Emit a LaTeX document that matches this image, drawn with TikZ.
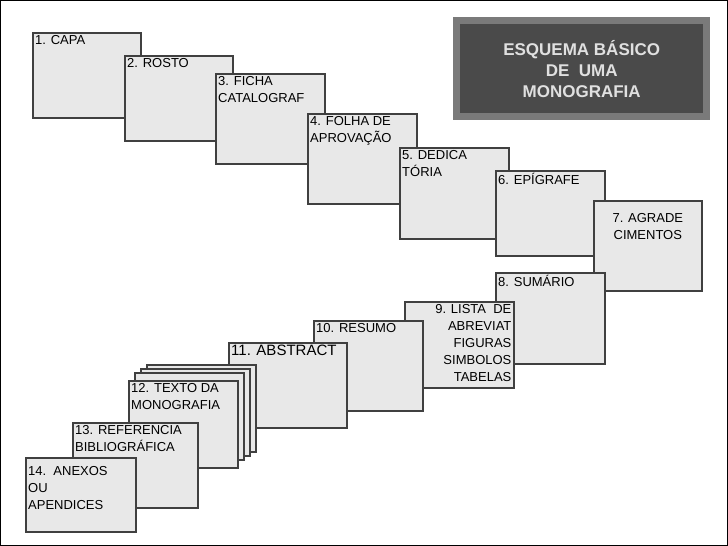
\documentclass[tikz,border=0pt]{standalone}
\usepackage{fontspec}
\setmainfont{Liberation Sans}
\usetikzlibrary{positioning}
\definecolor{boxfill}{HTML}{E8E8E8}
\definecolor{boxline}{HTML}{404040}
\definecolor{titlebg}{HTML}{4A4A4A}
\definecolor{titlerim}{HTML}{7A7A7A}
\tikzset{
  pagebox/.style={draw=boxline,line width=1.6pt,fill=boxfill,anchor=north west,
    minimum width=108pt,minimum height=87pt,inner sep=0pt},
  boxtext/.style={anchor=north west,align=left,inner sep=3pt,font=\fontsize{13}{17}\selectfont},
}
\newcommand{\pagecard}[6]{%
  \node[pagebox,minimum width=#4pt,minimum height=#5pt] (#1) at (#2,#3) {};
  \node[boxtext] (#1t) at (#1.north west) {#6};}
\begin{document}
\begin{tikzpicture}[x=1pt,y=-1pt]
    \useasboundingbox (0,0) rectangle (728,546);
    \draw[black,line width=0.8pt] (0.4,0.4) rectangle (727.6,545.6);
    % title
    \node[fill=titlerim,anchor=north west,minimum width=257pt,minimum height=103pt,inner sep=0pt] (titlerim) at (453,17) {};
    \node[fill=titlebg,minimum width=243pt,minimum height=89pt,inner sep=0pt] (titlebox) at (titlerim.center) {};
    \node[align=center,font=\fontsize{17}{21}\selectfont\bfseries,text=black!70] at ([shift={(1.2pt,1.2pt)}]titlebox.center) {ESQUEMA BÁSICO\\DE\ \ UMA\\MONOGRAFIA};
    \node[align=center,font=\fontsize{17}{21}\selectfont\bfseries,text=white!88!black] (title) at (titlebox.center) {ESQUEMA BÁSICO\\DE\ \ UMA\\MONOGRAFIA};
    % upper row
    \pagecard{capa}{32}{32}{108}{85}{1. CAPA}
    \pagecard{rosto}{124}{55}{108}{85}{2. ROSTO}
    \pagecard{ficha}{215}{73}{109}{90}{3. FICHA\\CATALOGRAF}
    \pagecard{folha}{307}{113}{109}{90}{4. FOLHA DE\\APROVAÇÃO}
    \pagecard{dedica}{399}{147}{109}{91}{5. DEDICA\\TÓRIA}
    \pagecard{epigrafe}{495}{170}{109}{85}{6. EPÍGRAFE}
    \node[pagebox,minimum width=108pt,minimum height=90pt] (agrade) at (593,200) {};
    \node[boxtext,align=center,anchor=north] (agradet) at ([yshift=-10pt]agrade.north) {7. AGRADE\\CIMENTOS};
    % lower row
    \pagecard{sumario}{495}{272}{109}{91}{8. SUMÁRIO}
    \node[pagebox,minimum width=109pt,minimum height=86pt] (lista) at (404,301) {};
    \node[boxtext,align=right,anchor=north east] (listat) at (lista.north east) {9. LISTA\ \ DE\\ABREVIAT\\FIGURAS\\SIMBOLOS\\TABELAS};
    \pagecard{resumo}{313}{320}{109}{90}{10. RESUMO}
    \pagecard{abstract}{228}{342}{118}{85}{\fontsize{15}{18}\selectfont 11. ABSTRACT}
    \foreach \dx/\dy in {18/-16,12/-12,6/-8}
      \node[pagebox,minimum width=109pt,minimum height=87pt] at (128+\dx,380+\dy) {};
    \pagecard{texto}{128}{380}{109}{87}{12. TEXTO DA\\MONOGRAFIA}
    \pagecard{refer}{72}{422}{125}{85}{13. REFERENCIA\\BIBLIOGRÁFICA}
    \node[pagebox,minimum width=110pt,minimum height=74pt] (anexos) at (25,457) {};
    \node[boxtext] (anexost) at ([yshift=-6pt]anexos.north west) {14.\ \ ANEXOS\\OU\\APENDICES};
  \end{tikzpicture}
\end{document}
